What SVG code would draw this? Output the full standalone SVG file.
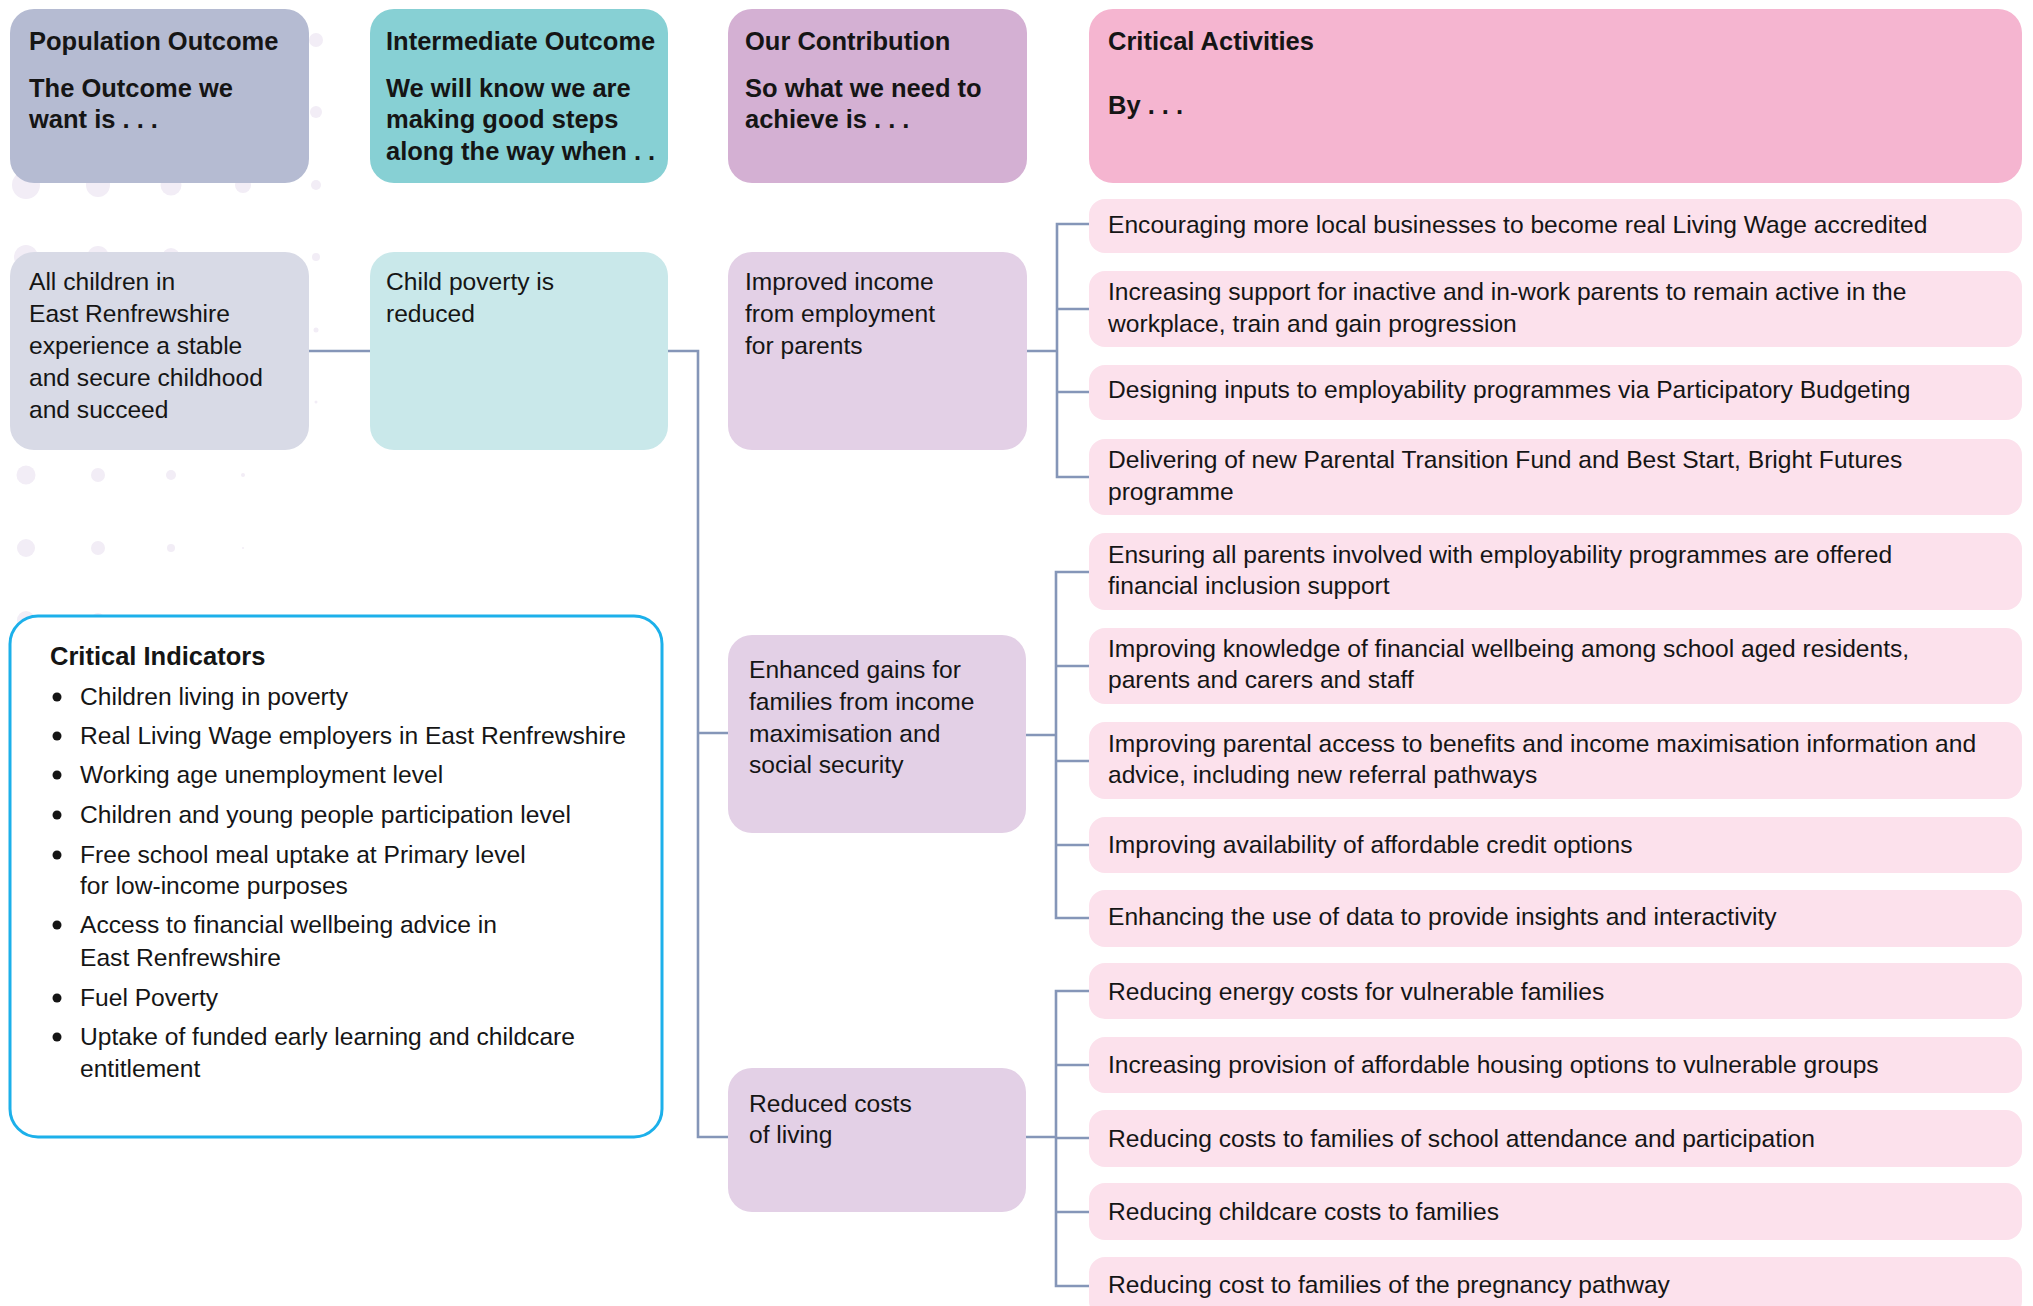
<svg xmlns="http://www.w3.org/2000/svg" width="2033" height="1306" viewBox="0 0 2033 1306">
<style>
text{font-family:"Liberation Sans",Arial,sans-serif;fill:#151515}
.h{font-size:25.5px;font-weight:bold}
.t{font-size:24.6px}
.dot{fill:#f2edf6}
.con{fill:none;stroke:#8596b8;stroke-width:2.6}
.pop-h{fill:#b5bbd2}.pop-b{fill:#d8dae6}
.int-h{fill:#87d0d4}.int-b{fill:#c9e8ea}
.con-h{fill:#d4b0d3}.con-b{fill:#e3d0e6}
.act-h{fill:#f5b5d0}.act{fill:#fce1ec}
.ind{fill:#fff;stroke:#1cb0ea;stroke-width:3}
.bul{fill:#151515}
</style>
<rect width="2033" height="1306" fill="#fff"/>
<g id="dots">
<circle class="dot" cx="316" cy="40" r="7"/>
<circle class="dot" cx="316" cy="112" r="6"/>
<circle class="dot" cx="26" cy="185" r="14"/><circle class="dot" cx="98" cy="185" r="12"/><circle class="dot" cx="171" cy="185" r="10.5"/><circle class="dot" cx="243" cy="185" r="8"/><circle class="dot" cx="316" cy="185" r="5"/>
<circle class="dot" cx="26" cy="257" r="12"/><circle class="dot" cx="98" cy="257" r="11"/><circle class="dot" cx="171" cy="257" r="9"/><circle class="dot" cx="316" cy="257" r="4"/>
<circle class="dot" cx="316" cy="330" r="2.5"/>
<circle class="dot" cx="316" cy="402" r="1.5"/>
<circle class="dot" cx="26" cy="475" r="9.5"/><circle class="dot" cx="98" cy="475" r="7"/><circle class="dot" cx="171" cy="475" r="5"/><circle class="dot" cx="243" cy="475" r="2"/>
<circle class="dot" cx="26" cy="548" r="9"/><circle class="dot" cx="98" cy="548" r="7"/><circle class="dot" cx="171" cy="548" r="4"/><circle class="dot" cx="243" cy="548" r="1"/>
<circle class="dot" cx="26" cy="620" r="9"/><circle class="dot" cx="98" cy="620" r="7"/><circle class="dot" cx="171" cy="620" r="4"/>
<circle class="dot" cx="26" cy="693" r="9"/>
<circle class="dot" cx="26" cy="766" r="9"/>
</g>
<g id="connectors">
<path class="con" d="M309 351H370"/>
<path class="con" d="M667 351H698V1137H728M698 733H728"/>
<path class="con" d="M1027 351H1057M1089 224H1057V477H1089M1057 309H1089M1057 392H1089"/>
<path class="con" d="M1026 735H1056M1089 572H1056V918H1089M1056 666H1089M1056 761H1089M1056 845H1089"/>
<path class="con" d="M1026 1137H1056M1089 991H1056V1286H1089M1056 1065H1089M1056 1138H1089M1056 1212H1089"/>
</g>
<g id="hdr-population">
<rect class="pop-h" x="10" y="9" width="299" height="174" rx="24"/>
<text class="h" x="29" y="50">Population Outcome</text>
<text class="h" x="29" y="97">The Outcome we</text>
<text class="h" x="29" y="128">want is . . .</text>
</g>
<g id="hdr-intermediate">
<rect class="int-h" x="370" y="9" width="298" height="174" rx="24"/>
<text class="h" x="386" y="50">Intermediate Outcome</text>
<text class="h" x="386" y="97">We will know we are</text>
<text class="h" x="386" y="128">making good steps</text>
<text class="h" x="386" y="160">along the way when . .</text>
</g>
<g id="hdr-contribution">
<rect class="con-h" x="728" y="9" width="299" height="174" rx="24"/>
<text class="h" x="745" y="50">Our Contribution</text>
<text class="h" x="745" y="97">So what we need to</text>
<text class="h" x="745" y="128">achieve is . . .</text>
</g>
<g id="hdr-activities">
<rect class="act-h" x="1089" y="9" width="933" height="174" rx="24"/>
<text class="h" x="1108" y="50">Critical Activities</text>
<text class="h" x="1108" y="114">By . . .</text>
</g>
<g id="population">
<rect class="pop-b" x="10" y="252" width="299" height="198" rx="24"/>
<text class="t" x="29" y="290">All children in</text>
<text class="t" x="29" y="322">East Renfrewshire</text>
<text class="t" x="29" y="354">experience a stable</text>
<text class="t" x="29" y="386">and secure childhood</text>
<text class="t" x="29" y="418">and succeed</text>
</g>
<g id="intermediate">
<rect class="int-b" x="370" y="252" width="298" height="198" rx="24"/>
<text class="t" x="386" y="290">Child poverty is</text>
<text class="t" x="386" y="322">reduced</text>
</g>
<g id="contrib-income">
<rect class="con-b" x="728" y="252" width="299" height="198" rx="24"/>
<text class="t" x="745" y="290">Improved income</text>
<text class="t" x="745" y="322">from employment</text>
<text class="t" x="745" y="354">for parents</text>
</g>
<g id="contrib-gains">
<rect class="con-b" x="728" y="635" width="298" height="198" rx="24"/>
<text class="t" x="749" y="678">Enhanced gains for</text>
<text class="t" x="749" y="710">families from income</text>
<text class="t" x="749" y="742">maximisation and</text>
<text class="t" x="749" y="773">social security</text>
</g>
<g id="contrib-costs">
<rect class="con-b" x="728" y="1068" width="298" height="144" rx="24"/>
<text class="t" x="749" y="1112">Reduced costs</text>
<text class="t" x="749" y="1143">of living</text>
</g>
<g id="act1"><rect class="act" x="1089" y="199" width="933" height="54" rx="16"/><text class="t" x="1108" y="233">Encouraging more local businesses to become real Living Wage accredited</text></g>
<g id="act2"><rect class="act" x="1089" y="271" width="933" height="76" rx="16"/><text class="t" x="1108" y="300">Increasing support for inactive and in-work parents to remain active in the</text><text class="t" x="1108" y="332">workplace, train and gain progression</text></g>
<g id="act3"><rect class="act" x="1089" y="365" width="933" height="55" rx="16"/><text class="t" x="1108" y="398">Designing inputs to employability programmes via Participatory Budgeting</text></g>
<g id="act4"><rect class="act" x="1089" y="439" width="933" height="76" rx="16"/><text class="t" x="1108" y="468">Delivering of new Parental Transition Fund and Best Start, Bright Futures</text><text class="t" x="1108" y="500">programme</text></g>
<g id="act5"><rect class="act" x="1089" y="533" width="933" height="77" rx="16"/><text class="t" x="1108" y="563">Ensuring all parents involved with employability programmes are offered</text><text class="t" x="1108" y="594">financial inclusion support</text></g>
<g id="act6"><rect class="act" x="1089" y="628" width="933" height="76" rx="16"/><text class="t" x="1108" y="657">Improving knowledge of financial wellbeing among school aged residents,</text><text class="t" x="1108" y="688">parents and carers and staff</text></g>
<g id="act7"><rect class="act" x="1089" y="722" width="933" height="77" rx="16"/><text class="t" x="1108" y="752">Improving parental access to benefits and income maximisation information and</text><text class="t" x="1108" y="783">advice, including new referral pathways</text></g>
<g id="act8"><rect class="act" x="1089" y="817" width="933" height="56" rx="16"/><text class="t" x="1108" y="853">Improving availability of affordable credit options</text></g>
<g id="act9"><rect class="act" x="1089" y="890" width="933" height="57" rx="16"/><text class="t" x="1108" y="925">Enhancing the use of data to provide insights and interactivity</text></g>
<g id="act10"><rect class="act" x="1089" y="963" width="933" height="56" rx="16"/><text class="t" x="1108" y="1000">Reducing energy costs for vulnerable families</text></g>
<g id="act11"><rect class="act" x="1089" y="1037" width="933" height="56" rx="16"/><text class="t" x="1108" y="1073">Increasing provision of affordable housing options to vulnerable groups</text></g>
<g id="act12"><rect class="act" x="1089" y="1110" width="933" height="57" rx="16"/><text class="t" x="1108" y="1147">Reducing costs to families of school attendance and participation</text></g>
<g id="act13"><rect class="act" x="1089" y="1183" width="933" height="57" rx="16"/><text class="t" x="1108" y="1220">Reducing childcare costs to families</text></g>
<g id="act14"><rect class="act" x="1089" y="1257" width="933" height="60" rx="16"/><text class="t" x="1108" y="1293">Reducing cost to families of the pregnancy pathway</text></g>
<g id="indicators">
<rect class="ind" x="10" y="616" width="652" height="521" rx="28"/>
<text class="h" x="50" y="665">Critical Indicators</text>
<circle class="bul" cx="57" cy="697" r="4.5"/><text class="t" x="80" y="705">Children living in poverty</text>
<circle class="bul" cx="57" cy="736" r="4.5"/><text class="t" x="80" y="744">Real Living Wage employers in East Renfrewshire</text>
<circle class="bul" cx="57" cy="775" r="4.5"/><text class="t" x="80" y="783">Working age unemployment level</text>
<circle class="bul" cx="57" cy="815" r="4.5"/><text class="t" x="80" y="823">Children and young people participation level</text>
<circle class="bul" cx="57" cy="855" r="4.5"/><text class="t" x="80" y="863">Free school meal uptake at Primary level</text>
<text class="t" x="80" y="894">for low-income purposes</text>
<circle class="bul" cx="57" cy="925" r="4.5"/><text class="t" x="80" y="933">Access to financial wellbeing advice in</text>
<text class="t" x="80" y="966">East Renfrewshire</text>
<circle class="bul" cx="57" cy="998" r="4.5"/><text class="t" x="80" y="1006">Fuel Poverty</text>
<circle class="bul" cx="57" cy="1037" r="4.5"/><text class="t" x="80" y="1045">Uptake of funded early learning and childcare</text>
<text class="t" x="80" y="1077">entitlement</text>
</g>
</svg>
